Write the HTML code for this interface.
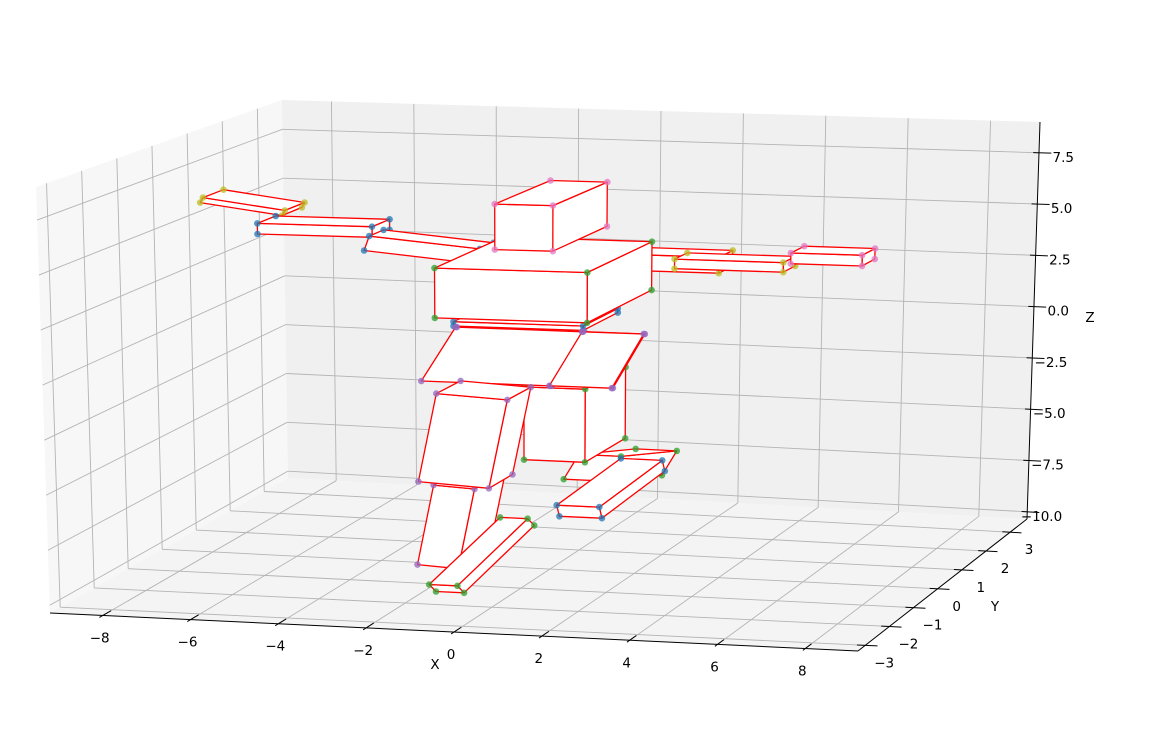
<!DOCTYPE html>
<html><head><meta charset="utf-8">
<style>
html,body{margin:0;padding:0;background:#fff;}
svg{display:block;font-family:"DejaVu Sans","Liberation Sans",sans-serif;}
</style></head>
<body>
<svg id="chart" width="1153" height="732" viewBox="0 0 1153 732" xmlns="http://www.w3.org/2000/svg">
<g id="panes"></g>
<g id="grid"></g>
<g id="axes"></g>
<g id="body"></g>
</svg>
<script>
// axis limits
const xLim = [-9.2, 9.2];
const yLim = [-3.3, 3.7];
const zLim = [-10.35, 9.0];
// tick values
const xTicks = [-8, -6, -4, -2, 0, 2, 4, 6, 8];
const yTicks = [-3, -2, -1, 0, 1, 2, 3];
const zTicks = [-10, -7.5, -5, -2.5, 0, 2.5, 5, 7.5];
const zTickLabels = ["\u221210.0", "\u22127.5", "\u22125.0", "\u22122.5", "0.0", "2.5", "5.0", "7.5"];
// body parts (painter order, back to front)
const partNames = ["right-upper-arm","right-forearm","right-hand","left-hand","left-forearm","left-upper-arm","waist","right-shin","right-foot","right-thigh","pelvis-left","pelvis-right","chest","head","left-shin","left-thigh","left-foot"];
const partCx = [2.5, 3.72, 6.02, -6.9, -5.26, -2.82, -0.33, 0.85, 0.9, 0.24, -1.1, 1.1, -0.14, 0.02, -1.38, -1.07, -0.91];
const partCy = [0.9, 0.9, 0.9, 0, 0, 0, 0, 1.2, 0.8, 0.5, 0, 0, 0, 0, -1, -1, -1];
const partCz = [3.67, 3.65, 4.1, 6.42, 5.37, 4.57, 1.42, -6.4, -7.15, -3.41, -0.47, -0.47, 3.2, 6.2, -7.22, -3.35, -8.9];
const partW = [2.0, 2.55, 1.67, 1.95, 2.65, 2.6, 3.0, 1.0, 1.0, 1.43, 3.0, 1.45, 3.5, 1.33, 0.95, 1.64, 0.65];
const partD = [0.5, 0.45, 0.5, 0.6, 0.55, 0.45, 1.2, 0.9, 2.24, 1.4, 2.05, 2.05, 2.25, 1.85, 1.05, 0.8, 2.61];
const partH = [0.75, 0.45, 0.5, 0.25, 0.5, 0.7, 0.2, 2.4, 0.6, 3.4, 0.05, 0.05, 2.3, 2.1, 3.7, 4.1, 0.56];
const partTilt = [0, 0, 0, -15, 0, -10, 0, 0, 0, 0, 0, 0, 0, 0, -6, -6, 0];
const partPitch = [0, 0, 0, 0, 0, 0, 0, 55, 9, 0, 57, 57, 0, 0, 0, 0, 24];
const partColor = ["#bcbd22","#bcbd22","#e377c2","#bcbd22","#1f77b4","#1f77b4","#1f77b4","#2ca02c","#1f77b4","#2ca02c","#9467bd","#9467bd","#2ca02c","#e377c2","#9467bd","#9467bd","#2ca02c"];

// screen corners of the axes cube [u][v][w]
const C = {
  "000":[50,613],"100":[858,651],"010":[288,478],"110":[1027,519],
  "001":[36,187],"101":[868,204],"011":[282,100],"111":[1040,122]
};
function P(x,y,z){
  const u=(x-xLim[0])/(xLim[1]-xLim[0]);
  const v=(y-yLim[0])/(yLim[1]-yLim[0]);
  const w=(z-zLim[0])/(zLim[1]-zLim[0]);
  let sx=0, sy=0;
  for (const a of [0,1]) for (const b of [0,1]) for (const c of [0,1]) {
    const wt=(a?u:1-u)*(b?v:1-v)*(c?w:1-w);
    const p=C[""+a+b+c];
    sx+=wt*p[0]; sy+=wt*p[1];
  }
  return [sx,sy];
}
const NS="http://www.w3.org/2000/svg";
function mk(tag, parent, attrs){
  const e=document.createElementNS(NS,tag);
  for (const k in attrs) e.setAttribute(k, attrs[k]);
  parent.appendChild(e);
  return e;
}
function pts(arr){return arr.map(p=>p[0].toFixed(1)+","+p[1].toFixed(1)).join(" ");}

const panes=document.getElementById("panes");
const X0=xLim[0],X1=xLim[1],Y0=yLim[0],Y1=yLim[1],Z0=zLim[0],Z1=zLim[1];
let pe;
pe=mk("polygon",panes,{points:pts([P(X0,Y0,Z0),P(X0,Y1,Z0),P(X0,Y1,Z1),P(X0,Y0,Z1)]),fill:"#f7f7f7"});


pe=mk("polygon",panes,{points:pts([P(X0,Y1,Z0),P(X1,Y1,Z0),P(X1,Y1,Z1),P(X0,Y1,Z1)]),fill:"#f0f0f0"});


pe=mk("polygon",panes,{points:pts([P(X0,Y0,Z0),P(X1,Y0,Z0),P(X1,Y1,Z0),P(X0,Y1,Z0)]),fill:"#f4f4f4"});



const grid=document.getElementById("grid");
function gl(a,b,name){
  const l=mk("line",grid,{x1:a[0],y1:a[1],x2:b[0],y2:b[1],stroke:"#b4b4b4","stroke-width":0.9});
  
  
}
xTicks.forEach(x=>{ gl(P(x,Y0,Z0),P(x,Y1,Z0),'floor-grid-x'); gl(P(x,Y1,Z0),P(x,Y1,Z1),'back-grid-x'); });
yTicks.forEach(y=>{ gl(P(X0,y,Z0),P(X1,y,Z0),'floor-grid-y'); gl(P(X0,y,Z0),P(X0,y,Z1),'left-grid-y'); });
zTicks.forEach(z=>{ gl(P(X0,Y1,z),P(X1,Y1,z),'back-grid-z'); gl(P(X0,Y0,z),P(X0,Y1,z),'left-grid-z'); });

const axes=document.getElementById("axes");
function al(a,b,name,w){
  const l=mk("line",axes,{x1:a[0],y1:a[1],x2:b[0],y2:b[1],stroke:"#000","stroke-width":w});
  
  
}
function tx(p,str,name,anchor,size){
  const t=mk("text",axes,{x:p[0].toFixed(1),y:p[1].toFixed(1),"text-anchor":anchor,"dominant-baseline":"central","font-size":size,fill:"#000"});
  t.textContent=str;
  
  
}
al(P(X0,Y0,Z0),P(X1,Y0,Z0),'x-axis-line',1);
al(P(X1,Y0,Z0),P(X1,Y1,Z0),'y-axis-line',1);
al(P(X1,Y1,Z0),P(X1,Y1,Z1),'z-axis-line',1);
const fmt=v=>(v<0?"\u2212":"")+Math.abs(v);
xTicks.forEach(x=>{
  al(P(x,Y0-0.1,Z0),P(x,Y0+0.25,Z0),'x-tick',1);
  const p=P(x,Y0,Z0);
  tx([p[0]-3,p[1]+23],fmt(x),'x-tick-label','middle',13.5);
});
yTicks.forEach(y=>{
  al(P(X1-0.19,y,Z0),P(X1+0.28,y,Z0),'y-tick',1);
  const p=P(X1,y,Z0);
  tx([p[0]+19,p[1]+18],fmt(y),'y-tick-label','middle',13.5);
});
zTicks.forEach((z,i)=>{
  al(P(X1-0.14,Y1,z),P(X1+0.3,Y1,z),'z-tick',1);
  const p=P(X1,Y1,z);
  tx([p[0]+35,p[1]+5],zTickLabels[i],'z-tick-label','end',13.5);
});
tx([435,665],"X",'x-axis-title','middle',13.5);
tx([995,607],"Y",'y-axis-title','middle',13.5);
tx([1090,318],"Z",'z-axis-title','middle',13.5);

// body boxes
const body=document.getElementById("body");
const faces=[[0,4,6,2],[1,3,7,5],[0,1,5,4],[2,6,7,3],[0,2,3,1],[4,5,7,6]];
for (let i=0;i<partNames.length;i++){
  const g=mk("g",body,{});
  
  
  const a=partTilt[i]*Math.PI/180, b=partPitch[i]*Math.PI/180;
  const V=[];
  for (let k=0;k<8;k++){
    let x=(k&1?0.5:-0.5)*partW[i], y=(k&2?0.5:-0.5)*partD[i], z=(k&4?0.5:-0.5)*partH[i];
    let x1=x*Math.cos(a)-z*Math.sin(a), z1=x*Math.sin(a)+z*Math.cos(a);
    let y2=y*Math.cos(b)-z1*Math.sin(b), z2=y*Math.sin(b)+z1*Math.cos(b);
    V.push(P(partCx[i]+x1, partCy[i]+y2, partCz[i]+z2));
  }
  const vis=new Set();
  faces.forEach(f=>{
    const q=f.map(k=>V[k]);
    let s=0;
    for (let j=0;j<4;j++){const p1=q[j],p2=q[(j+1)%4]; s+=p1[0]*p2[1]-p2[0]*p1[1];}
    if (s<0){
      const poly=mk("polygon",g,{points:pts(q),fill:"#fff",stroke:"#ff0000","stroke-width":1.3,"stroke-linejoin":"round"});
      
      
      f.forEach(k=>vis.add(k));
    }
  });
  vis.forEach(k=>{
    const d=mk("circle",g,{cx:V[k][0].toFixed(1),cy:V[k][1].toFixed(1),r:3.3,fill:partColor[i],"fill-opacity":0.75});
    
    
  });
}
</script>
</body></html>
